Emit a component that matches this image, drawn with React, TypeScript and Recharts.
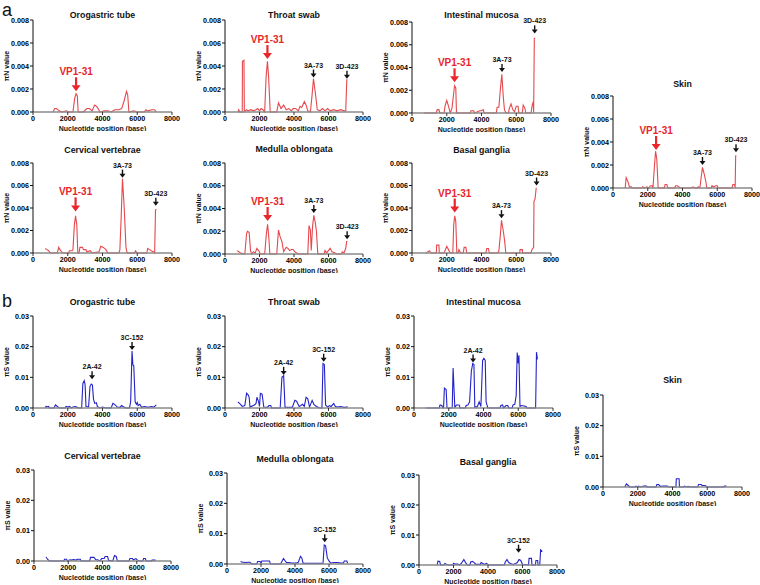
import { LineChart, Line, XAxis, YAxis, ReferenceDot } from 'recharts';

type Pt = [number, number];
type Note = { label: string; x: number; y: number; red?: boolean };

const xTicks = [0, 2000, 4000, 6000, 8000];
const nTicks = [0, 0.002, 0.004, 0.006, 0.008];
const sTicks = [0, 0.01, 0.02, 0.03];

// ---- πN (panel a) ----
const orogastricN: Pt[] = [[1150,0],[1250,0.0003],[1350,0.0003],[1500,0.0001],[1700,0],[1900,0.0001],[2100,0],[2300,0],[2400,0.0012],[2480,0.0016],[2550,0.0014],[2600,0],[2900,0],[3100,0.0003],[3250,0.0003],[3400,0.0001],[3550,0.0006],[3650,0.0005],[3750,0.0003],[3850,0],[4100,0.0001],[4300,0.0001],[4500,0],[4700,0.0002],[4950,0.0002],[5100,0.0003],[5250,0.001],[5380,0.0018],[5450,0.0015],[5520,0],[5800,0.0001],[6000,0],[6400,0],[6500,0.0002],[6600,0.0001],[6850,0.0002],[7000,0.0002],[7100,0]];
const throatN: Pt[] = [[750,0],[800,0.0002],[850,0],[1000,0],[1010,0.0044],[1100,0.0045],[1120,0],[1250,0.0002],[1350,0.0001],[1500,0.0002],[1650,0.0001],[1800,0.0002],[1900,0.0003],[2000,0.0001],[2100,0.0003],[2200,0.0002],[2300,0],[2380,0.003],[2460,0.0044],[2530,0.003],[2620,0],[3000,0],[3100,0.0008],[3250,0.0003],[3400,0.0006],[3550,0.0002],[3700,0.0003],[3850,0.0001],[3950,0.0003],[4100,0.0003],[4250,0.0001],[4350,0.0005],[4450,0.0004],[4600,0.0009],[4700,0.0006],[4800,0.0001],[4950,0],[5050,0.0015],[5130,0.0029],[5250,0.0015],[5350,0.0002],[5500,0.0001],[5650,0.0003],[5800,0.0001],[5950,0.0003],[6100,0.0001],[6300,0.0002],[6500,0.0001],[6700,0.0002],[6900,0.0001],[7000,0.0001],[7060,0.0028],[7100,0.0028]];
const intestinalN: Pt[] = [[700,0],[1400,0],[1450,0.0003],[1550,0.0003],[1600,0],[1850,0],[1900,0.0006],[2000,0.0011],[2100,0.0006],[2200,0],[2300,0.0004],[2380,0.0015],[2450,0.0024],[2520,0.0022],[2560,0],[3350,0],[3400,0.0002],[3550,0.0002],[3600,0],[3900,0.0002],[4000,0.0002],[4100,0.0003],[4150,0],[4850,0],[4900,0.0005],[5000,0.0005],[5080,0.002],[5170,0.0034],[5250,0.0015],[5320,0.0003],[5400,0],[5550,0],[5600,0.0004],[5700,0.0008],[5800,0.0003],[5900,0.0001],[6000,0.0006],[6100,0.0006],[6150,0],[6350,0],[6400,0.0007],[6500,0.0004],[6550,0],[6850,0],[6920,0.0007],[6980,0.001],[7000,0],[7040,0.0066],[7060,0.0065]];
const skinN: Pt[] = [[700,0],[760,0.0009],[850,0.0006],[950,0.0001],[1050,0.0001],[1100,0],[1650,0],[1700,0.0001],[1800,0],[1950,0.0001],[2050,0],[2150,0.0002],[2250,0.0002],[2300,0],[2380,0.0018],[2450,0.0032],[2520,0.0025],[2600,0],[2950,0],[3000,0.0003],[3100,0.0003],[3150,0],[3550,0],[3600,0.0002],[3700,0.0002],[3800,0.0001],[3850,0],[4500,0],[4600,0.0001],[4700,0],[4850,0],[4900,0.0001],[5000,0],[5080,0.001],[5150,0.0018],[5250,0.0012],[5350,0.0005],[5400,0],[5650,0],[5700,0.0002],[5800,0.0001],[5900,0.0002],[6000,0.0002],[6050,0],[6850,0],[6900,0.0003],[7000,0.0003],[7030,0],[7060,0.0028],[7100,0.0028]];
const cervicalN: Pt[] = [[700,0.0004],[800,0.0003],[900,0.0002],[1000,0],[1400,0],[1480,0.0005],[1550,0.0003],[1650,0.0001],[1750,0],[2050,0],[2100,0.0002],[2250,0.0002],[2300,0.0003],[2380,0.0025],[2450,0.0033],[2520,0.0025],[2580,0],[2650,0],[2700,0.0005],[2850,0.0005],[2900,0.0003],[3050,0.0003],[3100,0.0001],[3300,0.0002],[3400,0],[3800,0.0001],[3900,0.0006],[4050,0.0005],[4200,0.0003],[4300,0],[4950,0],[5000,0.0003],[5070,0.003],[5150,0.0066],[5250,0.004],[5350,0.0005],[5420,0],[5850,0],[5900,0.0002],[6000,0],[6550,0],[6600,0.0004],[6700,0.0003],[6800,0.0002],[6950,0.0001],[7000,0],[7050,0.0038],[7100,0.0039]];
const medullaN: Pt[] = [[700,0.0003],[800,0.0002],[900,0.0001],[1000,0],[1150,0],[1250,0.0018],[1300,0.002],[1400,0.0019],[1480,0.0003],[1550,0],[1650,0.0002],[1750,0.0001],[1850,0.0005],[1950,0.0003],[2050,0],[2300,0],[2400,0.0018],[2470,0.0026],[2540,0.0015],[2600,0],[3000,0],[3100,0.0021],[3200,0.0015],[3300,0.0011],[3400,0.0002],[3550,0.0006],[3650,0.0005],[3750,0.0003],[3850,0.0004],[3950,0.0004],[4050,0.0002],[4150,0.0001],[4250,0],[4800,0],[4870,0.0025],[4950,0.0021],[5000,0.0003],[5080,0.0025],[5150,0.0034],[5230,0.0028],[5300,0.002],[5380,0],[5750,0],[5800,0.0003],[5900,0.0001],[6050,0.0004],[6100,0.0005],[6200,0.0002],[6350,0.0001],[6500,0],[6750,0],[6800,0.0002],[6900,0.0001],[7000,0.0005],[7050,0.0011],[7100,0.0011]];
const basalN: Pt[] = [[800,0],[900,0.0001],[1000,0.0002],[1100,0],[1400,0],[1420,0.0007],[1550,0.0007],[1570,0],[1850,0],[1900,0.0002],[2000,0.0006],[2100,0.0003],[2200,0],[2350,0],[2400,0.0025],[2460,0.0033],[2520,0.0028],[2580,0],[2650,0],[2700,0.0003],[2800,0],[2950,0],[3000,0.0005],[3100,0.0005],[3150,0],[4250,0],[4300,0.0004],[4400,0.0004],[4450,0],[4950,0],[5000,0.0002],[5080,0.0015],[5150,0.0029],[5250,0.002],[5330,0.0011],[5400,0],[6200,0],[6220,0.0003],[6350,0.0003],[6370,0],[6850,0],[6900,0.0003],[7000,0.0005],[7020,0.0046],[7080,0.0048],[7150,0.0058]];

// ---- πS (panel b) ----
const orogastricS: Pt[] = [[700,0],[750,0.0005],[850,0.0004],[900,0.0005],[950,0],[1200,0],[1300,0.001],[1400,0.0005],[1500,0],[1850,0],[1900,0.0005],[2000,0.0003],[2100,0.0005],[2200,0],[2300,0.0003],[2450,0.0005],[2550,0.0002],[2650,0],[2800,0],[2870,0.008],[2950,0.0089],[3000,0.0075],[3050,0.0005],[3200,0.0004],[3280,0.007],[3350,0.0078],[3420,0.0075],[3480,0.003],[3550,0.0015],[3650,0.0017],[3700,0.0005],[3850,0],[4000,0.0003],[4200,0],[4300,0.0001],[4500,0],[4600,0.0015],[4700,0.0012],[4850,0.0003],[5000,0.0002],[5100,0.0008],[5200,0.0004],[5350,0],[5550,0],[5620,0.002],[5700,0.0186],[5750,0.014],[5800,0.0138],[5880,0.002],[5950,0.0012],[6000,0.0018],[6050,0.0008],[6150,0.0012],[6250,0.0002],[6400,0.0005],[6500,0.0004],[6650,0.0002],[6800,0.0005],[6950,0.0003],[7100,0.001]];
const throatS: Pt[] = [[750,0.002],[900,0.0012],[1000,0.0005],[1150,0.0008],[1250,0.0048],[1350,0.0042],[1400,0.0035],[1450,0.0003],[1700,0.001],[1800,0.0015],[1850,0.0035],[1950,0.002],[2000,0.0005],[2050,0.0048],[2150,0.0045],[2250,0.0003],[2450,0.0002],[2550,0.0008],[2650,0.0008],[2700,0],[3200,0],[3300,0.01],[3400,0.0105],[3480,0.0002],[3900,0.0002],[4050,0.0025],[4150,0.0022],[4300,0.0005],[4400,0.0008],[4500,0.0012],[4600,0.0005],[4700,0.0035],[4800,0.003],[4900,0.0003],[5050,0.0025],[5150,0.0012],[5300,0.0005],[5500,0],[5620,0],[5680,0.0145],[5760,0.0142],[5830,0.001],[5950,0.0003],[6050,0.0008],[6150,0.0005],[6300,0.0015],[6400,0.0005],[6550,0.0003],[6700,0.0005],[6900,0.0002],[7000,0.0002],[7100,0.0005]];
const intestinalS: Pt[] = [[700,0],[1450,0],[1500,0.001],[1600,0.0008],[1650,0],[1700,0],[1750,0.0065],[1850,0.006],[1900,0],[2200,0],[2250,0.013],[2350,0.0002],[2450,0.001],[2600,0.001],[2650,0],[2950,0],[3000,0.0008],[3100,0.001],[3200,0.002],[3300,0.012],[3380,0.0145],[3450,0.0142],[3500,0.0002],[3650,0.0005],[3750,0.002],[3850,0.0005],[3950,0.0155],[4020,0.0162],[4100,0.0155],[4150,0.002],[4250,0],[4950,0],[5000,0.0008],[5100,0.001],[5150,0],[5300,0.0008],[5400,0.0008],[5450,0],[5650,0],[5700,0.001],[5800,0.0012],[5880,0.004],[5940,0.0181],[6000,0.0145],[6040,0.0172],[6100,0.0005],[6200,0.0008],[6450,0.0005],[6500,0],[7000,0],[7050,0.0182],[7100,0.016],[7120,0.016]];
const skinS: Pt[] = [[1250,0],[1300,0.0005],[1350,0.001],[1450,0.0005],[1550,0],[1850,0],[1900,0.0003],[2000,0],[2050,0.0003],[2150,0],[2350,0.0003],[2500,0.0003],[2550,0],[3050,0],[3100,0.0008],[3200,0.0008],[3300,0.0002],[3500,0.0003],[3700,0.0003],[3800,0],[4200,0],[4220,0.0027],[4380,0.0027],[4400,0],[4650,0],[4700,0.0003],[4800,0],[4900,0.0002],[5000,0],[5450,0],[5500,0.0008],[5650,0.0008],[5700,0.0005],[5800,0.0005],[5900,0.0004],[6000,0],[6950,0],[7000,0.0003],[7100,0.0003]];
const cervicalS: Pt[] = [[700,0.0013],[800,0.0005],[900,0],[1750,0],[1780,0.0006],[1900,0.0006],[1950,0],[2100,0.0004],[2200,0.0003],[2300,0.0005],[2450,0.0003],[2550,0.0006],[2700,0.0006],[2750,0],[3250,0],[3300,0.0012],[3500,0.0012],[3600,0.0005],[3750,0.0003],[3850,0],[3950,0.0008],[4100,0.0008],[4150,0.0015],[4300,0.0015],[4350,0.0002],[4600,0],[4700,0.0018],[4800,0.0015],[4870,0],[5550,0],[5600,0.0008],[5750,0.0008],[5800,0.0003],[5950,0.0008],[6050,0.0002],[6150,0],[6350,0],[6400,0.0008],[6500,0.0008],[6550,0],[6850,0],[6900,0.0003],[7100,0.0003]];
const medullaS: Pt[] = [[800,0.0008],[900,0.0006],[1000,0.0006],[1100,0.0005],[1200,0.0006],[1350,0.0006],[1450,0],[1750,0],[1800,0.0008],[1950,0.0008],[2000,0.0002],[2050,0.001],[2500,0.001],[2550,0],[3150,0],[3200,0.0005],[3320,0.0018],[3400,0.0012],[3500,0.0005],[3650,0.0005],[3800,0.0003],[4100,0.0003],[4200,0.0006],[4320,0.0025],[4400,0.002],[4480,0.0002],[5550,0.0002],[5650,0.0003],[5720,0.0063],[5800,0.006],[5900,0.002],[6000,0.001],[6100,0.0003],[6300,0.0005],[6500,0.0005],[6700,0.0003],[6850,0.0003],[6900,0.001],[7050,0.001],[7100,0.0002]];
const basalS: Pt[] = [[1050,0],[1100,0.0013],[1200,0.0012],[1250,0],[1450,0],[1500,0.0005],[1600,0.0002],[1700,0],[1950,0],[2000,0.0005],[2100,0.0003],[2250,0.0003],[2350,0],[2450,0.0005],[2600,0.0018],[2700,0.0008],[2800,0],[2950,0],[3000,0.001],[3100,0.0012],[3200,0.0008],[3300,0.0002],[3550,0.0002],[3600,0.0008],[3700,0.0005],[3800,0.0002],[3900,0.0005],[4050,0],[4950,0],[5000,0.001],[5100,0.0018],[5200,0.0008],[5300,0.0005],[5450,0.0002],[5600,0.0005],[5700,0.0008],[5800,0.0018],[5900,0.0015],[6000,0.0002],[6350,0],[6380,0.0022],[6520,0.0022],[6550,0],[6750,0],[6780,0.0015],[6880,0.0015],[6900,0],[7000,0],[7050,0.005],[7150,0.0045]];

// arrow annotations: x = position, y = where the arrow tip sits
const orogastricNNotes: Note[] = [{ label: 'VP1-31', x: 2480, y: 0.0018, red: true }];
const throatNNotes: Note[] = [{ label: 'VP1-31', x: 2460, y: 0.0046, red: true }, { label: '3A-73', x: 5130, y: 0.003 }, { label: '3D-423', x: 7070, y: 0.0029 }];
const intestinalNNotes: Note[] = [{ label: 'VP1-31', x: 2450, y: 0.0027, red: true }, { label: '3A-73', x: 5180, y: 0.0036 }, { label: '3D-423', x: 7060, y: 0.007 }];
const skinNNotes: Note[] = [{ label: 'VP1-31', x: 2480, y: 0.0033, red: true }, { label: '3A-73', x: 5150, y: 0.002 }, { label: '3D-423', x: 7080, y: 0.0031 }];
const cervicalNNotes: Note[] = [{ label: 'VP1-31', x: 2450, y: 0.0037, red: true }, { label: '3A-73', x: 5150, y: 0.0067 }, { label: '3D-423', x: 7070, y: 0.0042 }];
const medullaNNotes: Note[] = [{ label: 'VP1-31', x: 2470, y: 0.0029, red: true }, { label: '3A-73', x: 5150, y: 0.0036 }, { label: '3D-423', x: 7080, y: 0.0013 }];
const basalNNotes: Note[] = [{ label: 'VP1-31', x: 2460, y: 0.0036, red: true }, { label: '3A-73', x: 5150, y: 0.0031 }, { label: '3D-423', x: 7170, y: 0.006 }];
const orogastricSNotes: Note[] = [{ label: '2A-42', x: 3400, y: 0.0094 }, { label: '3C-152', x: 5700, y: 0.0189 }];
const throatSNotes: Note[] = [{ label: '2A-42', x: 3400, y: 0.0108 }, { label: '3C-152', x: 5720, y: 0.0151 }];
const intestinalSNotes: Note[] = [{ label: '2A-42', x: 3400, y: 0.0148 }];
const medullaSNotes: Note[] = [{ label: '3C-152', x: 5750, y: 0.0072 }];
const basalSNotes: Note[] = [{ label: '3C-152', x: 5770, y: 0.0041 }];

const RED_LINE = '#e5484d';
const BLUE_LINE = '#2323c8';
const FONT = '"Liberation Sans", Arial, sans-serif';

type PanelSpec = {
  title: string;
  kind: 'N' | 'S';
  left: number;
  top: number;
  w: number;
  h: number;
  titleY: number;
  data: Pt[];
  notes: Note[];
};

const panels: PanelSpec[] = [
  { title: 'Orogastric tube', kind: 'N', left: 33, top: 20, w: 139, h: 92, titleY: 15, data: orogastricN, notes: orogastricNNotes },
  { title: 'Throat swab', kind: 'N', left: 225, top: 20, w: 138, h: 92, titleY: 15, data: throatN, notes: throatNNotes },
  { title: 'Intestinal mucosa', kind: 'N', left: 412, top: 22, w: 139, h: 91, titleY: 15, data: intestinalN, notes: intestinalNNotes },
  { title: 'Skin', kind: 'N', left: 613, top: 96, w: 139, h: 92, titleY: 84, data: skinN, notes: skinNNotes },
  { title: 'Cervical vertebrae', kind: 'N', left: 33, top: 163, w: 139, h: 90, titleY: 150, data: cervicalN, notes: cervicalNNotes },
  { title: 'Medulla oblongata', kind: 'N', left: 225, top: 163, w: 138, h: 91, titleY: 149, data: medullaN, notes: medullaNNotes },
  { title: 'Basal ganglia', kind: 'N', left: 412, top: 163, w: 139, h: 90, titleY: 150, data: basalN, notes: basalNNotes },
  { title: 'Orogastric tube', kind: 'S', left: 33, top: 316, w: 139, h: 92, titleY: 302, data: orogastricS, notes: orogastricSNotes },
  { title: 'Throat swab', kind: 'S', left: 225, top: 316, w: 138, h: 92, titleY: 302, data: throatS, notes: throatSNotes },
  { title: 'Intestinal mucosa', kind: 'S', left: 414, top: 316, w: 139, h: 92, titleY: 302, data: intestinalS, notes: intestinalSNotes },
  { title: 'Skin', kind: 'S', left: 603, top: 395, w: 139, h: 92, titleY: 380, data: skinS, notes: [] },
  { title: 'Cervical vertebrae', kind: 'S', left: 34, top: 470, w: 137, h: 91, titleY: 456, data: cervicalS, notes: [] },
  { title: 'Medulla oblongata', kind: 'S', left: 227, top: 473, w: 136, h: 91, titleY: 459, data: medullaS, notes: medullaSNotes },
  { title: 'Basal ganglia', kind: 'S', left: 419, top: 475, w: 138, h: 90, titleY: 462, data: basalS, notes: basalSNotes },
];

const arrowShape = (label: string, red: boolean) => (props: any) => {
  const { cx, cy } = props;
  if (cx == null || cy == null) return <g />;
  const color = red ? '#e8262b' : '#111111';
  const len = red ? 14 : 8;
  const headW = red ? 4.5 : 3;
  const headH = red ? 6 : 4;
  const tipY = cy;
  const topY = tipY - len;
  return (
    <g>
      <line x1={cx} y1={topY} x2={cx} y2={tipY - headH + 0.5} stroke={color} strokeWidth={red ? 2.2 : 1.4} />
      <polygon points={`${cx - headW},${tipY - headH} ${cx + headW},${tipY - headH} ${cx},${tipY}`} fill={color} />
      <text x={cx} y={topY - 2} textAnchor="middle" fontSize={red ? 10 : 7} fontWeight="bold" fill={color} fontFamily={FONT}>
        {label}
      </text>
    </g>
  );
};

const yLabel = (text: string) => (props: any) => {
  const { viewBox } = props;
  if (!viewBox) return null;
  const cx = viewBox.x + 8;
  const cy = viewBox.y + viewBox.height / 2;
  return (
    <text x={cx} y={cy} transform={`rotate(-90, ${cx}, ${cy})`} textAnchor="middle" dominantBaseline="middle" fontSize={7} fontWeight="bold" fill="#111" fontFamily={FONT}>
      {text}
    </text>
  );
};

function Panel({ p }: { p: PanelSpec }) {
  const isN = p.kind === 'N';
  const padL = 34;
  const padT = 8;
  const padR = 16;
  const axisH = 19;
  const rows = p.data.map(([x, y]) => ({ x, y }));
  const tickStyle = { fontSize: 7.2, fontWeight: 'bold', fill: '#000', fontFamily: FONT };
  return (
    <>
      <div
        style={{
          position: 'absolute',
          left: p.left - 30,
          width: p.w + 60,
          top: p.titleY - 6,
          lineHeight: '12px',
          textAlign: 'center',
          fontSize: 8.8,
          fontWeight: 'bold',
          color: '#111',
        }}
      >
        {p.title}
      </div>
      <div style={{ position: 'absolute', left: p.left - padL, top: p.top - padT }}>
        <LineChart width={p.w + padL + padR} height={p.h + padT + axisH} data={rows} margin={{ top: padT, right: padR, bottom: 0, left: 0 }}>
          <XAxis
            type="number"
            dataKey="x"
            domain={[0, 8000]}
            ticks={xTicks}
            interval={0}
            height={axisH}
            tick={tickStyle}
            tickSize={3}
            tickMargin={1}
            axisLine={{ stroke: '#8a8a8a', strokeWidth: 1.6 }}
            tickLine={{ stroke: '#333' }}
            label={{ value: 'Nucleotide position (base)', position: 'insideBottom', offset: 0, style: { fontSize: 7, fontWeight: 'bold', fill: '#111', fontFamily: FONT } }}
          />
          <YAxis
            type="number"
            domain={isN ? [0, 0.008] : [0, 0.03]}
            ticks={isN ? nTicks : sTicks}
            interval={0}
            width={padL}
            tick={tickStyle}
            tickSize={3}
            tickMargin={1}
            axisLine={{ stroke: '#111' }}
            tickLine={{ stroke: '#111' }}
            tickFormatter={(v: number) => v.toFixed(isN ? 3 : 2)}
            label={yLabel(isN ? 'πN value' : 'πS value')}
          />
          <Line
            type="linear"
            dataKey="y"
            stroke={isN ? RED_LINE : BLUE_LINE}
            strokeWidth={1.1}
            dot={false}
            activeDot={false}
            isAnimationActive={false}
          />
          {p.notes.map((n) => (
            <ReferenceDot key={n.label} x={n.x} y={n.y} r={0} ifOverflow="visible" shape={arrowShape(n.label, !!n.red)} />
          ))}
        </LineChart>
      </div>
    </>
  );
}

export default function App() {
  return (
    <div style={{ position: 'absolute', left: 0, top: 0, width: 760, height: 585, background: '#fff', fontFamily: FONT, overflow: 'hidden' }}>
      <div style={{ position: 'absolute', left: 2, top: 0, fontSize: 18, lineHeight: '20px', color: '#111' }}>a</div>
      <div style={{ position: 'absolute', left: 2, top: 291, fontSize: 18, lineHeight: '20px', color: '#111' }}>b</div>
      {panels.map((p, i) => (
        <Panel key={i} p={p} />
      ))}
    </div>
  );
}
